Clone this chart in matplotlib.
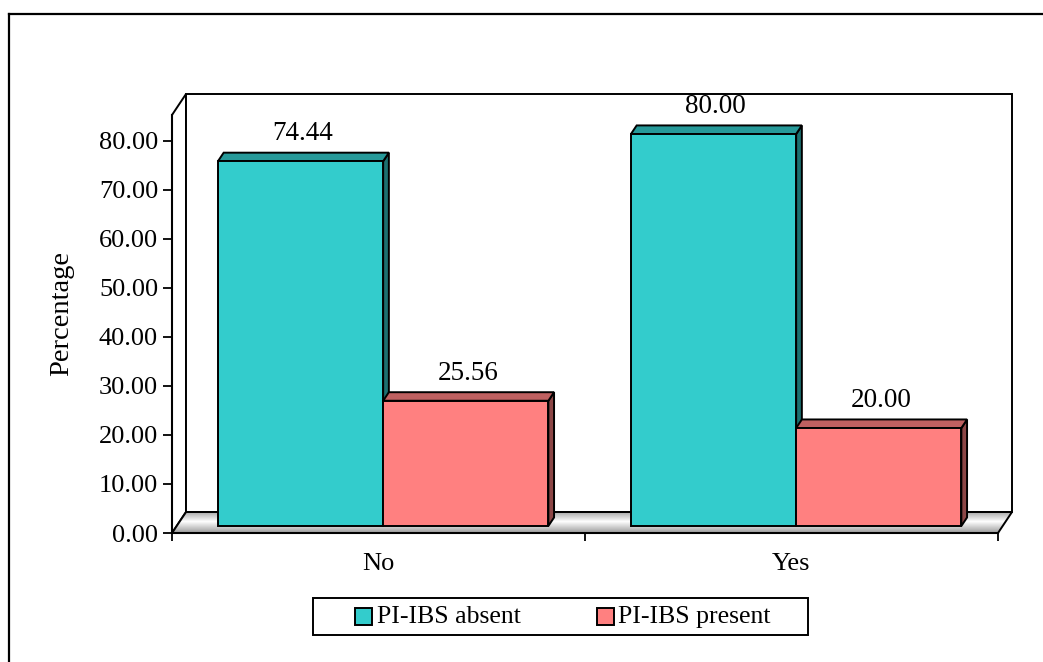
import matplotlib
matplotlib.use("Agg")
import matplotlib.pyplot as plt
from matplotlib.patches import Polygon, Rectangle
from matplotlib.lines import Line2D
from matplotlib.transforms import IdentityTransform
from matplotlib.colors import to_rgb

# ---- data -------------------------------------------------------------
categories = ["No", "Yes"]
series_names = ["PI-IBS absent", "PI-IBS present"]
absent = [74.44, 80.00]
present = [25.56, 20.00]
y_ticks = [0, 10, 20, 30, 40, 50, 60, 70, 80]

series_values = [absent, present]
face_colors = ["#33CCCC", "#FF8080"]

# ---- figure -----------------------------------------------------------
W, H, DPI = 1043, 662, 100
plt.rcParams["font.family"] = ["Liberation Serif", "DejaVu Serif"]
FS_TICK = 19
FS_VAL = 19.5
FS_CAT = 19
FS_YLAB = 20.5
FS_LEG = 18.5

fig = plt.figure(figsize=(W / DPI, H / DPI), dpi=DPI)
fig.patch.set_facecolor("white")

# front plane of the 3-D box
ax = fig.add_axes([172 / W, (H - 533) / H, 826 / W, 418 / H])
ax.set_xlim(-0.5, 1.5)
ax.set_ylim(0, 85.3)
ax.patch.set_visible(False)

WALL = (14.0, 21.0)          # depth vector of the box, in pixels
BAR_D0, BAR_D1 = 1 / 3, 0.74  # bar front/back as fractions of the depth
BAR_W = 0.4
LW = 1.4


def px(x, y, d=0.0):
    p = ax.transData.transform((x, y))
    return (p[0] + d * WALL[0], p[1] + d * WALL[1])


def shade(color, k):
    r, g, b = to_rgb(color)
    return (r * k, g * k, b * k)


def face(pts, color, z, ec="black", lw=LW):
    ax.add_patch(Polygon(pts, closed=True, facecolor=color, edgecolor=ec,
                         lw=lw, transform=IdentityTransform(), clip_on=False,
                         zorder=z, joinstyle="miter"))


x0, x1 = ax.get_xlim()
ytop = ax.get_ylim()[1]

# walls
face([px(x0, 0), px(x0, ytop), px(x0, ytop, 1), px(x0, 0, 1)], "white", 1)
face([px(x0, 0, 1), px(x0, ytop, 1), px(x1, ytop, 1), px(x1, 0, 1)], "white", 1)

# floor with a gradient fill
N = 40
for k in range(N):
    da, db = k / N, (k + 1) / N
    dm = (da + db) / 2
    g = 1.0 - 0.45 * min(1.0, abs(dm - 0.55) / 0.45)
    face([px(x0, 0, da), px(x1, 0, da), px(x1, 0, db), px(x0, 0, db)],
         (g, g, g), 2, ec="none", lw=0)
face([px(x0, 0), px(x1, 0), px(x1, 0, 1), px(x0, 0, 1)], "none", 3)

# bars
z = 5
for i, cat in enumerate(categories):
    for j, vals in enumerate(series_values):
        h = vals[i]
        xl = i - BAR_W + BAR_W * j
        xr = xl + BAR_W
        col = face_colors[j]
        face([px(xr, 0, BAR_D0), px(xr, h, BAR_D0), px(xr, h, BAR_D1),
              px(xr, 0, BAR_D1)], shade(col, 0.55), z)
        face([px(xl, h, BAR_D0), px(xl, h, BAR_D1), px(xr, h, BAR_D1),
              px(xr, h, BAR_D0)], shade(col, 0.75), z + 1)
        face([px(xl, 0, BAR_D0), px(xl, h, BAR_D0), px(xr, h, BAR_D0),
              px(xr, 0, BAR_D0)], col, z + 2)
        z += 3
        ax.annotate(f"{h:.2f}", xy=((xl + xr) / 2, h), xytext=(5, 20),
                    textcoords="offset points", ha="center", va="baseline",
                    fontsize=FS_VAL, zorder=50, annotation_clip=False)

# axes, ticks
for s in ("top", "right"):
    ax.spines[s].set_visible(False)
for s in ("left", "bottom"):
    ax.spines[s].set_linewidth(1.5)
    ax.spines[s].set_zorder(40)

ax.set_yticks(y_ticks)
ax.set_yticklabels([f"{t:.2f}" for t in y_ticks])
ax.tick_params(axis="y", direction="out", length=6.5, width=1.3, pad=3.5,
               labelsize=FS_TICK)
ax.set_xticks([-0.5, 0.5, 1.5])
ax.set_xticklabels([])
ax.set_xticks([0, 1], minor=True)
ax.set_xticklabels(categories, minor=True)
ax.tick_params(axis="x", which="major", length=5.5, width=1.3, direction="out")
ax.tick_params(axis="x", which="minor", length=0, pad=14.5, labelsize=FS_CAT)

fig.text(62 / W, 1 - 313 / H, "Percentage", rotation=90, ha="center",
         va="center", fontsize=FS_YLAB)

# legend
fig.add_artist(Rectangle((313 / W, 1 - 635 / H), 495 / W, 37 / H,
                         transform=fig.transFigure, fill=False,
                         edgecolor="black", lw=1.4))
for mx, tx, name, col in zip([355, 597], [377, 618], series_names, face_colors):
    fig.add_artist(Rectangle((mx / W, 1 - 625 / H), 17 / W, 17 / H,
                             transform=fig.transFigure, facecolor=col,
                             edgecolor="black", lw=1.4))
    fig.text(tx / W, 1 - 617 / H, name, ha="left", va="center",
             fontsize=FS_LEG)

# outer frame
fig.add_artist(Line2D([9 / W, 9 / W], [0, 1 - 14 / H], transform=fig.transFigure,
                      color="black", lw=1.6))
fig.add_artist(Line2D([9 / W, 1], [1 - 14 / H, 1 - 14 / H],
                      transform=fig.transFigure, color="black", lw=1.6))

fig.savefig("out.png", dpi=DPI, facecolor="white")
